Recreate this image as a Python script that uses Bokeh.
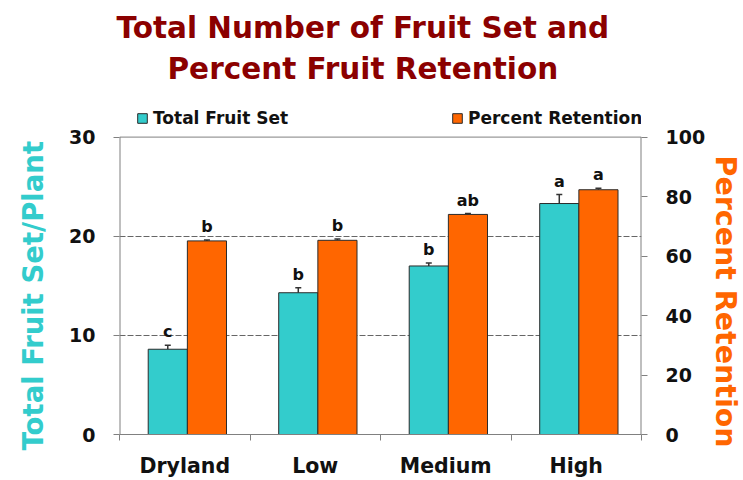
from bokeh.core.properties import value
from bokeh.embed import file_html
from bokeh.models import (ColumnDataSource, FixedTicker, Legend, LegendItem,
                          LinearAxis, Range1d, Span, TeeHead, Title, Whisker)
from bokeh.plotting import figure
from bokeh.resources import INLINE
from bokeh.transform import dodge

# Irrigation treatments
categories = ["Dryland", "Low", "Medium", "High"]

# Total fruit set per plant (left axis)
fruit_set = [8.6, 14.3, 17.0, 23.3]
fruit_set_err = [0.4, 0.5, 0.3, 0.9]
fruit_set_letters = ["c", "b", "b", "a"]

# Percent fruit retention (right axis)
retention = [65.1, 65.3, 74.0, 82.3]
retention_err = [0.3, 0.4, 0.3, 0.5]
retention_letters = ["b", "b", "ab", "a"]

left_ticks = [0, 10, 20, 30]
right_ticks = [0, 20, 40, 60, 80, 100]

TEAL = "#33CCCC"
ORANGE = "#FF6600"
TITLE_RED = "#8B0000"
AXIS_GRAY = "#808080"
FONT = "DejaVu Sans"

n = len(categories)
centers = [i + 0.5 for i in range(n)]      # one unit-wide slot per treatment
edges = list(range(n + 1))

# the plot area reaches a little above the 30 line to hold the legend band
Y_TOP = 34.6
PCT_TOP = Y_TOP / left_ticks[-1] * right_ticks[-1]

source = ColumnDataSource(dict(
    pos=centers,
    fs=fruit_set,
    fs_top=[v + e for v, e in zip(fruit_set, fruit_set_err)],
    fs_letter=fruit_set_letters,
    ret=retention,
    ret_top=[v + e for v, e in zip(retention, retention_err)],
    ret_letter=retention_letters,
))

p = figure(
    width=743, height=480,
    x_range=Range1d(0, n), y_range=Range1d(0, Y_TOP),
    output_backend="svg", toolbar_location=None, title=None,
    x_axis_location=None, y_axis_location=None,
    min_border_left=116, min_border_right=98,
    min_border_top=91, min_border_bottom=43,
    background_fill_color="white", border_fill_color="white",
    outline_line_color=None,
)
p.extra_y_ranges = {"pct": Range1d(0, PCT_TOP)}

# box around the data area: top line at 30 plus the two vertical axis lines
p.add_layout(Span(location=left_ticks[-1], dimension="width",
                  line_color=AXIS_GRAY, line_width=1))
p.segment(x0=[0, n], y0=[0, 0], x1=[0, n], y1=[left_ticks[-1]] * 2,
          line_color=AXIS_GRAY, line_width=2)

# grid
p.xgrid.grid_line_color = None
p.ygrid.ticker = FixedTicker(ticks=[10, 20])
p.ygrid.grid_line_color = "#666666"
p.ygrid.grid_line_dash = "6 2"
p.ygrid.grid_line_width = 1

TEAL_OFF = -0.13
ORANGE_OFF = 0.17
BAR_W = 0.30

r_fs = p.vbar(x=dodge("pos", TEAL_OFF), top="fs", width=BAR_W,
              source=source, fill_color=TEAL, line_color="#2b2b2b", line_width=1)
r_ret = p.vbar(x=dodge("pos", ORANGE_OFF), top="ret", width=BAR_W,
               source=source, fill_color=ORANGE, line_color="#2b2b2b", line_width=1,
               y_range_name="pct")

# error bars (upper half only)
p.add_layout(Whisker(base=dodge("pos", TEAL_OFF), lower="fs", upper="fs_top",
                     source=source, line_color="#333333", line_width=1.5,
                     upper_head=TeeHead(size=6, line_color="#333333", line_width=1.5),
                     lower_head=None))
p.add_layout(Whisker(base=dodge("pos", ORANGE_OFF), lower="ret", upper="ret_top",
                     source=source, line_color="#333333", line_width=1.5,
                     upper_head=TeeHead(size=6, line_color="#333333", line_width=1.5),
                     lower_head=None, y_range_name="pct"))

# mean-separation letters
letter_style = dict(text_font=value(FONT), text_font_style="bold", text_font_size="16px",
                    text_color="#111111", text_align="center", text_baseline="bottom",
                    y_offset=-4)
p.text(x=dodge("pos", TEAL_OFF), y="fs_top", text="fs_letter",
       source=source, **letter_style)
p.text(x=dodge("pos", ORANGE_OFF), y="ret_top", text="ret_letter",
       source=source, y_range_name="pct", **letter_style)

tick_font = dict(major_label_text_font=FONT, major_label_text_font_style="bold",
                 major_label_text_font_size="19px", major_label_text_color="#111111")

# left axis and its title
yl = LinearAxis(ticker=FixedTicker(ticks=left_ticks), major_label_standoff=18,
                axis_line_color=None, major_tick_line_color=AXIS_GRAY,
                major_tick_out=6, major_tick_in=0, minor_tick_line_color=None, **tick_font)
p.add_layout(yl, "left")
p.add_layout(Title(text="Total Fruit Set/Plant", align="left", offset=-16,
                   vertical_align="top", standoff=32,
                   text_font=FONT, text_font_style="bold", text_font_size="27.5px",
                   text_color=TEAL), "left")

# right axis and its title
yr = LinearAxis(y_range_name="pct", ticker=FixedTicker(ticks=right_ticks),
                major_label_standoff=18,
                axis_line_color=None, major_tick_line_color=AXIS_GRAY,
                major_tick_out=6, major_tick_in=0, minor_tick_line_color=None, **tick_font)
p.add_layout(yr, "right")
p.add_layout(Title(text="Percent Retention", align="left", offset=64, standoff=0,
                   text_font=FONT, text_font_style="bold", text_font_size="28.5px",
                   text_color=ORANGE), "right")

# bottom: tick marks on slot boundaries, then treatment names under slot centres
xe = LinearAxis(ticker=FixedTicker(ticks=edges),
                axis_line_color=AXIS_GRAY, major_tick_line_color=AXIS_GRAY,
                major_tick_out=6, major_tick_in=0, minor_tick_line_color=None,
                major_label_text_font_size="0px", major_label_standoff=0)
xe.major_label_overrides = {e: "" for e in edges}
p.add_layout(xe, "below")

xc = LinearAxis(ticker=FixedTicker(ticks=centers),
                axis_line_color=None, major_tick_line_color=None, minor_tick_line_color=None,
                major_label_text_font=FONT, major_label_text_font_style="bold",
                major_label_text_font_size="20.5px", major_label_text_color="#111111",
                major_label_standoff=7)
xc.major_label_overrides = {c: name for c, name in zip(centers, categories)}
p.add_layout(xc, "below")

# legend in the band above the 30 line
legend = Legend(items=[LegendItem(label="Total Fruit Set", renderers=[r_fs]),
                       LegendItem(label="Percent Retention", renderers=[r_ret])],
                orientation="horizontal", location="top_left",
                spacing=0, label_width=298, label_standoff=5,
                glyph_width=12, glyph_height=12,
                padding=0, margin=17, border_line_alpha=0, background_fill_alpha=0,
                label_text_font=FONT, label_text_font_style="bold",
                label_text_font_size="17px", label_text_color="#111111")
p.add_layout(legend, "center")

title_style = dict(align="left", text_font=FONT, text_font_style="bold",
                   text_font_size="29.5px", text_color=TITLE_RED)
p.add_layout(Title(text="Percent Fruit Retention", offset=48, standoff=11, **title_style), "above")
p.add_layout(Title(text="Total Number of Fruit Set and", offset=-3, standoff=0, **title_style), "above")

open("out.html", "w").write(file_html(p, INLINE))
